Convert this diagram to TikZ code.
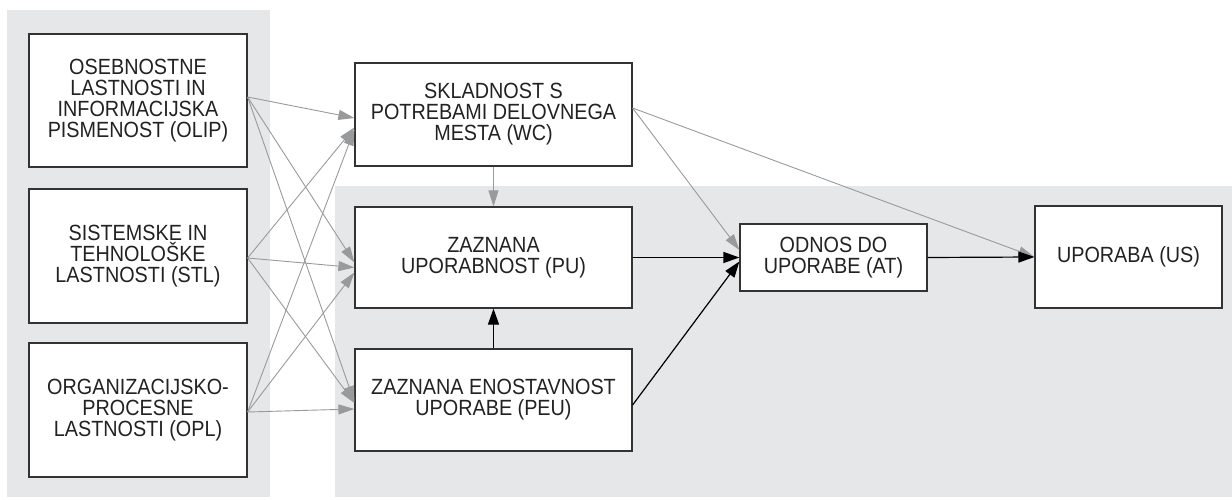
\documentclass[tikz,border=0pt]{standalone}
\usepackage{fontspec}
\setmainfont[FakeStretch=0.9]{Liberation Sans}
\usetikzlibrary{arrows.meta,calc}
\definecolor{bggray}{HTML}{E6E7E9}
\definecolor{linegray}{HTML}{999A9C}
\definecolor{boxline}{HTML}{333333}
\definecolor{txt}{HTML}{222222}
\tikzset{
  box/.style={draw=boxline, line width=1.2pt, fill=white, rectangle, inner sep=0pt,
    align=center, text=txt, font=\fontsize{22}{21}\selectfont},
  grayarrow/.style={draw=linegray, line width=0.9pt, -{Triangle[length=16pt,width=10pt]}},
  blackarrow/.style={draw=black, line width=1.2pt, -{Triangle[length=16pt,width=11pt]}},
}
\begin{document}
\begin{tikzpicture}[x=1pt,y=-1pt]
\useasboundingbox (0,0) rectangle (1232,500);
% backgrounds
\fill[bggray] (7,10) rectangle (270,497);
\fill[bggray] (335,186) rectangle (1232,497);
% nodes
\node[box, minimum width=218pt, minimum height=133pt] (olip) at (138,100.5)
  {OSEBNOSTNE\\LASTNOSTI IN\\INFORMACIJSKA\\PISMENOST (OLIP)};
\node[box, minimum width=218pt, minimum height=134pt] (stl) at (138,256)
  {SISTEMSKE IN\\TEHNOLOŠKE\\LASTNOSTI (STL)};
\node[box, minimum width=218pt, minimum height=134pt] (opl) at (138,410)
  {ORGANIZACIJSKO-\\PROCESNE\\LASTNOSTI (OPL)};
\node[box, minimum width=277pt, minimum height=103pt] (wc) at (493.5,114.5)
  {SKLADNOST S\\POTREBAMI DELOVNEGA\\MESTA (WC)};
\node[box, minimum width=277pt, minimum height=101pt] (pu) at (493.5,257.5)
  {ZAZNANA\\UPORABNOST (PU)};
\node[box, minimum width=277pt, minimum height=102pt] (peu) at (493.5,400)
  {ZAZNANA ENOSTAVNOST\\UPORABE (PEU)};
\node[box, minimum width=187pt, minimum height=67pt] (at) at (833.5,257.5)
  {ODNOS DO\\UPORABE (AT)};
\node[box, minimum width=187pt, minimum height=102pt] (us) at (1128.5,257)
  {UPORABA (US)};
% start / end points
\coordinate (olipS) at ($(olip.east)+(0,-3.5)$);
\coordinate (stlS) at ($(stl.east)+(0,2)$);
\coordinate (oplS) at ($(opl.east)+(0,2)$);
\coordinate (wcA) at ($(wc.west)+(0,3.5)$);
\coordinate (wcB) at ($(wc.west)+(0,13)$);
\coordinate (wcC) at ($(wc.west)+(0,15)$);
\coordinate (puA) at ($(pu.west)+(0,5)$);
\coordinate (puB) at ($(pu.west)+(0,10)$);
\coordinate (puC) at ($(pu.west)+(0,15)$);
\coordinate (peuA) at ($(peu.west)+(0,2)$);
\coordinate (peuB) at ($(peu.west)+(0,3)$);
\coordinate (peuC) at ($(peu.west)+(0,9)$);
\coordinate (wcR) at ($(wc.east)+(0,-6.5)$);
\coordinate (atL) at ($(at.west)+(0,-7.5)$);
\coordinate (peuR) at ($(peu.east)+(0,5)$);
\coordinate (atL2) at ($(at.west)+(0,4)$);
% gray arrows from left column
\draw[grayarrow] (olipS) -- (wcA);
\draw[grayarrow] (olipS) -- (puA);
\draw[grayarrow] (olipS) -- (peuA);
\draw[grayarrow] (stlS) -- (wcB);
\draw[grayarrow] (stlS) -- (puB);
\draw[grayarrow] (stlS) -- (peuB);
\draw[grayarrow] (oplS) -- (wcC);
\draw[grayarrow] (oplS) -- (puC);
\draw[grayarrow] (oplS) -- (peuC);
% gray arrows from WC
\draw[grayarrow] (wc.south) -- (pu.north);
\draw[grayarrow] (wcR) -- (atL);
\draw[grayarrow] (wcR) -- (us.west);
% black arrows
\draw[blackarrow] (peu.north) -- (pu.south);
\draw[blackarrow] (pu.east) -- (at.west);
\draw[blackarrow] (peuR) -- (atL2);
\draw[blackarrow] (at.east) -- (us.west);
\end{tikzpicture}
\end{document}
